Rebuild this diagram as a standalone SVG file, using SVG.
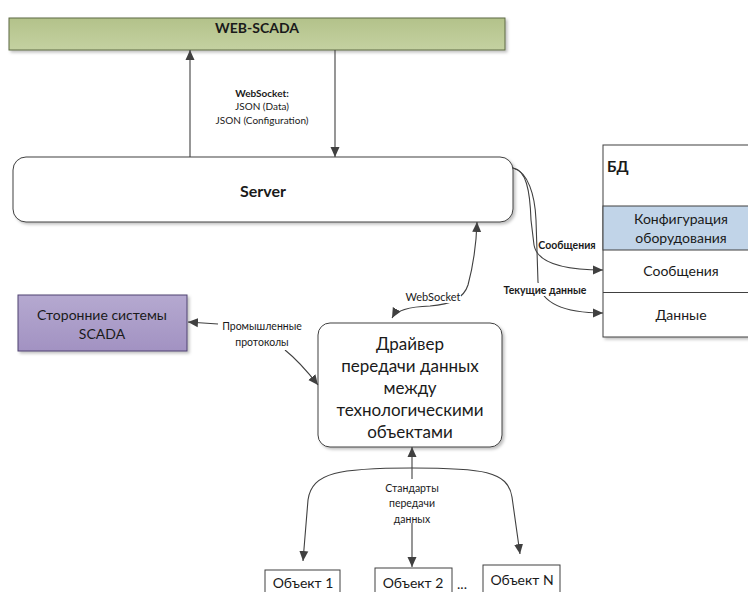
<svg xmlns="http://www.w3.org/2000/svg" width="748" height="592" viewBox="0 0 748 592">
<defs>
<linearGradient id="gGreen" x1="0" y1="0" x2="0" y2="1"><stop offset="0" stop-color="#b3c28a"/><stop offset="1" stop-color="#c4d1a1"/></linearGradient>
<linearGradient id="gPurple" x1="0" y1="0" x2="0" y2="1"><stop offset="0" stop-color="#b5a9d0"/><stop offset="1" stop-color="#a292c2"/></linearGradient>
<filter id="sh" x="-10%" y="-10%" width="130%" height="140%"><feDropShadow dx="2" dy="2" stdDeviation="1.5" flood-color="#000" flood-opacity="0.25"/></filter>
<marker id="ah" viewBox="0 0 10 10" refX="10" refY="5" markerWidth="10" markerHeight="10" markerUnits="userSpaceOnUse" orient="auto-start-reverse"><path d="M0,0.5 L10,5 L0,9.5 Z" fill="#404040"/></marker>
</defs>
<style>
text{font-family:Lato,"Noto Sans","Liberation Sans",sans-serif;fill:#1a1a1a;text-anchor:middle}
.b{font-weight:bold}
.c{fill:none;stroke:#404040;stroke-width:1.1}
.box{stroke:#404040;stroke-width:1}
.lbl{fill:#fff}
</style>
<g id="web-scada">
<rect x="9" y="18" width="496" height="32" fill="url(#gGreen)" stroke="#5e6b44" stroke-width="1" filter="url(#sh)"/>
<text x="257" y="33" class="b" font-size="14">WEB-SCADA</text>
</g>
<g id="server">
<rect x="13" y="157" width="500" height="65" rx="13" fill="#fff" class="box" filter="url(#sh)"/>
<text x="263" y="197" class="b" font-size="16">Server</text>
</g>
<g id="bd">
<rect x="603" y="145" width="150" height="192" fill="#fff" class="box" filter="url(#sh)"/>
<rect x="603" y="206" width="150" height="44" fill="#c1d4e8" class="box"/>
<line x1="603" y1="292.5" x2="748" y2="292.5" stroke="#404040"/>
<text x="607" y="172" class="b" font-size="15" style="text-anchor:start">БД</text>
<text x="681" y="224" font-size="14">Конфигурация</text>
<text x="681" y="243" font-size="14">оборудования</text>
<text x="681" y="276" font-size="14">Сообщения</text>
<text x="681" y="320" font-size="14">Данные</text>
</g>
<g id="scada">
<rect x="18" y="295" width="169" height="56" fill="url(#gPurple)" stroke="#4f4370" stroke-width="1" filter="url(#sh)"/>
<text x="102" y="320" font-size="14">Сторонние системы</text>
<text x="102" y="339" font-size="14">SCADA</text>
</g>
<g id="driver">
<rect x="318" y="323" width="184" height="124" rx="12" fill="#fff" class="box" filter="url(#sh)"/>
<text x="410" y="350" font-size="17">Драйвер</text>
<text x="410" y="372" font-size="17">передачи данных</text>
<text x="410" y="394" font-size="17">между</text>
<text x="410" y="416" font-size="17">технологическими</text>
<text x="410" y="438" font-size="17">объектами</text>
</g>
<g id="obj1">
<rect x="265" y="570" width="75" height="30" fill="#fff" class="box"/>
<text x="303" y="588" font-size="14">Объект 1</text>
</g>
<g id="obj2">
<rect x="375" y="568" width="77" height="32" fill="#fff" class="box"/>
<text x="413" y="588" font-size="14">Объект 2</text>
</g>
<g id="objN">
<rect x="483" y="565" width="77" height="35" fill="#fff" class="box"/>
<text x="522" y="585" font-size="14">Объект N</text>
</g>
<text x="462" y="589" font-size="14">...</text>
<g id="connectors">
<line x1="190" y1="157" x2="190" y2="50" class="c" marker-end="url(#ah)"/>
<line x1="335" y1="50" x2="335" y2="157" class="c" marker-end="url(#ah)"/>
<path d="M513,168 C526,170 530,190 531,220 L534,245 C537,262 560,270 603,270" class="c" marker-end="url(#ah)"/>
<path d="M513,168 C528,172 535,195 536,220 L538,282 C541,302 562,313 603,313" class="c" marker-end="url(#ah)"/>
<path d="M392,318 Q398,307 430,306 Q462,304 468,285 Q476,255 477,222" class="c" marker-start="url(#ah)" marker-end="url(#ah)"/>
<path d="M218,324 L188,322" class="c" marker-end="url(#ah)"/>
<path d="M285,350 Q300,362 318,385" class="c" marker-end="url(#ah)"/>
<line x1="412" y1="567" x2="412" y2="447" class="c" marker-start="url(#ah)" marker-end="url(#ah)"/>
<path d="M412,468 C340,468 312,472 308,500 L303,561" class="c" marker-end="url(#ah)"/>
<path d="M412,468 C482,468 508,471 512,497 L520,554" class="c" marker-end="url(#ah)"/>
</g>
<g id="labels">
<rect x="226" y="85" width="72" height="42" class="lbl"/>
<text x="262" y="97" class="b" font-size="10">WebSocket:</text>
<text x="262" y="110" font-size="10">JSON (Data)</text>
<text x="262" y="124" font-size="10">JSON (Configuration)</text>
<rect x="538" y="238" width="60" height="13" class="lbl"/>
<text x="567" y="249" class="b" font-size="10.5">Сообщения</text>
<rect x="499" y="283" width="92" height="13" class="lbl"/>
<text x="545" y="294" class="b" font-size="10.5">Текущие данные</text>
<rect x="405" y="290" width="56" height="13" class="lbl"/>
<text x="433" y="301" font-size="11">WebSocket</text>
<rect x="219" y="319" width="86" height="31" class="lbl"/>
<text x="262" y="330" font-size="10.5">Промышленные</text>
<text x="262" y="346" font-size="10.5">протоколы</text>
<rect x="385" y="479" width="54" height="44" class="lbl"/>
<text x="412" y="492" font-size="10.5">Стандарты</text>
<text x="412" y="507" font-size="10.5">передачи</text>
<text x="412" y="523" font-size="10.5">данных</text>
</g>
</svg>
